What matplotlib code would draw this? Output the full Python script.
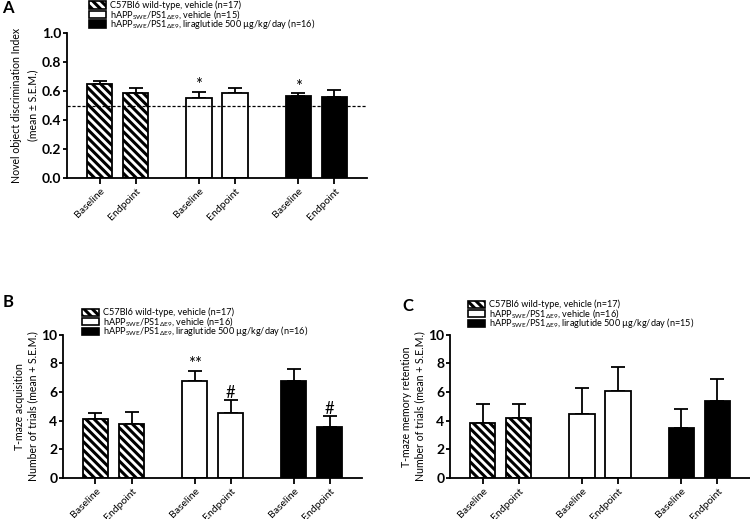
import matplotlib.pyplot as plt
import numpy as np
from matplotlib.patches import Rectangle

plt.rcParams['font.family'] = ['Lato', 'DejaVu Sans']
plt.rcParams['hatch.linewidth'] = 2.2
plt.rcParams['mathtext.fontset'] = 'custom'
plt.rcParams['mathtext.rm'] = 'Lato'
plt.rcParams['mathtext.it'] = 'Lato:italic'

# data
tick_labels = ["Baseline", "Endpoint"] * 3

nor_mean = [0.65, 0.585, 0.555, 0.59, 0.565, 0.56]
nor_sem = [0.02, 0.035, 0.04, 0.03, 0.02, 0.045]
nor_marks = ["", "", "*", "", "*", ""]
nor_n = [17, 15, 16]

acq_mean = [4.1, 3.75, 6.8, 4.55, 6.8, 3.55]
acq_sem = [0.45, 0.85, 0.65, 0.9, 0.8, 0.75]
acq_marks = ["", "", "**", "#", "", "#"]
acq_n = [17, 16, 16]

ret_mean = [3.85, 4.2, 4.5, 6.05, 3.5, 5.35]
ret_sem = [1.3, 0.95, 1.8, 1.7, 1.35, 1.55]
ret_marks = [""] * 6
ret_n = [17, 16, 15]

x = np.array([0, 1, 2.75, 3.75, 5.5, 6.5])
face = ["white", "white", "white", "white", "black", "black"]
hatch = ["\\\\\\\\", "\\\\\\\\", "", "", "", ""]
HATCH = "\\\\\\\\"


def legend_labels(n):
    sub = r"hAPP$_{\mathregular{SWE}}$/PS1$_{\mathregular{\Delta E9}}$"
    return [f"C57Bl6 wild-type, vehicle (n={n[0]})",
            f"{sub}, vehicle (n={n[1]})",
            f"{sub}, liraglutide 500 µg/kg/day (n={n[2]})"]


def draw_legend(fig, left, rows_y, n):
    # left / rows_y in figure pixels from top-left
    W, H = 750, 519
    styles = [("white", HATCH), ("white", ""), ("black", "")]
    for (fc, h), y, lab in zip(styles, rows_y, legend_labels(n)):
        fig.add_artist(Rectangle((left / W, 1 - (y + 3.5) / H), 17 / W, 7 / H,
                                 facecolor=fc, edgecolor="black", hatch=h,
                                 linewidth=1.2, transform=fig.transFigure))
        fig.text((left + 21) / W, 1 - y / H, lab, fontsize=6.6, va="center", ha="left")


def bar_panel(ax, mean, sem, marks, ymax, yticks, fmt, ylabel, mark_gap, lsp):
    for i in range(len(x)):
        ax.bar(x[i], mean[i], 0.7, color=face[i], edgecolor="black",
               linewidth=1.3, hatch=hatch[i], zorder=2)
        ax.errorbar(x[i], mean[i], yerr=[[0], [sem[i]]], fmt="none",
                    ecolor="black", elinewidth=1.3, capsize=5, capthick=1.3, zorder=1)
        if marks[i]:
            ax.text(x[i], mean[i] + sem[i] + mark_gap, marks[i], ha="center",
                    va="bottom", fontsize=12)
    ax.set_xlim(-0.9, 7.4)
    ax.set_ylim(0, ymax)
    ax.set_yticks(yticks)
    ax.set_yticklabels([fmt.format(v) for v in yticks], fontweight="bold", fontsize=10)
    ax.set_xticks(x)
    ax.set_xticklabels(tick_labels, rotation=45, ha="right", rotation_mode="anchor",
                       fontsize=7.5)
    ax.set_ylabel(ylabel, fontsize=7.6, linespacing=lsp, labelpad=2.5)
    for s in ["top", "right"]:
        ax.spines[s].set_visible(False)
    for s in ["left", "bottom"]:
        ax.spines[s].set_linewidth(1.3)
    ax.tick_params(axis="y", width=1.3, length=3, pad=1)
    ax.tick_params(axis="x", width=1.3, length=4, pad=2)


fig = plt.figure(figsize=(7.5, 5.19), dpi=100)
ax_a = fig.add_axes([0.0893, 0.657, 0.4, 0.279])
ax_b = fig.add_axes([0.084, 0.079, 0.399, 0.276])
ax_c = fig.add_axes([0.6, 0.079, 0.4, 0.276])

bar_panel(ax_a, nor_mean, nor_sem, nor_marks, 1.0, np.arange(0, 1.01, 0.2), "{:.1f}",
          "Novel object discrimination Index\n(mean ± S.E.M.)", -0.01, 1.65)
ax_a.axhline(0.5, color="black", linestyle=(0, (2.5, 1.5)), linewidth=0.9, zorder=3)

bar_panel(ax_b, acq_mean, acq_sem, acq_marks, 10, np.arange(0, 11, 2), "{:.0f}",
          "T-maze acquisition\nNumber of trials (mean + S.E.M.)", -0.05, 1.2)
bar_panel(ax_c, ret_mean, ret_sem, ret_marks, 10, np.arange(0, 11, 2), "{:.0f}",
          "T-maze memory retention\nNumber of trials (mean + S.E.M.)", -0.05, 1.2)

draw_legend(fig, 89, [5, 14.5, 24], nor_n)
draw_legend(fig, 82, [312, 321.5, 331], acq_n)
draw_legend(fig, 468, [304, 313.5, 323], ret_n)

fig.text(0.003, 0.985, "A", fontsize=12, fontweight="bold", va="center")
fig.text(0.003, 0.418, "B", fontsize=12, fontweight="bold", va="center")
fig.text(0.537, 0.41, "C", fontsize=12, fontweight="bold", va="center")

fig.savefig("out.png", dpi=100)
